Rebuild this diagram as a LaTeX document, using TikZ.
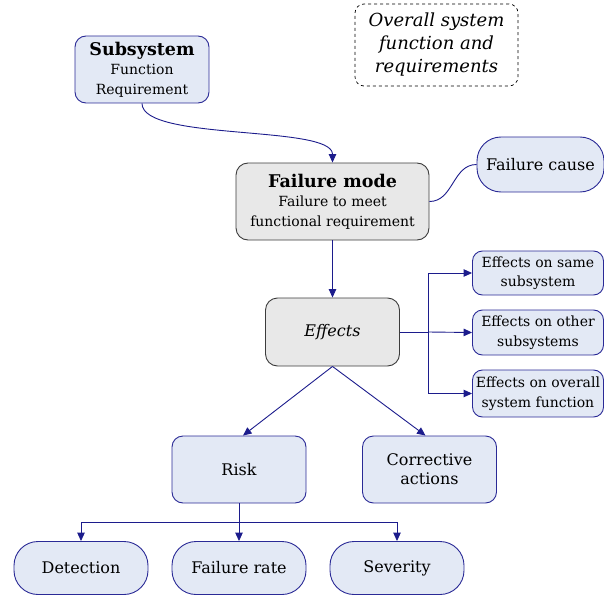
\documentclass[tikz,border=0pt]{standalone}
\usepackage{fontspec}
\setmainfont{DejaVu Serif}
\usetikzlibrary{arrows.meta}
\definecolor{boxblue}{HTML}{E3E9F5}
\definecolor{edgeblue}{HTML}{2A2A96}
\definecolor{linkblue}{HTML}{1C1C8C}
\definecolor{boxgray}{HTML}{E8E8E8}
\definecolor{edgegray}{HTML}{3C3C3C}
\newcommand\bigtxt{\fontsize{16}{19}\selectfont}
\newcommand\headtxt{\fontsize{17.5}{21}\selectfont\bfseries}
\newcommand\smalltxt{\fontsize{14}{19.5}\selectfont}
\tikzset{
  bluebox/.style={draw=edgeblue, fill=boxblue, line width=0.9pt, rounded corners=11pt,
    align=center, inner sep=0pt},
  graybox/.style={draw=edgegray, fill=boxgray, line width=0.9pt, rounded corners=12pt,
    align=center, inner sep=0pt},
  pill/.style={bluebox, rounded corners=24pt},
  notebox/.style={draw=black, dashed, line width=0.7pt, rounded corners=9pt,
    align=center, inner sep=0pt},
  link/.style={draw=linkblue, line width=0.9pt},
  arrow/.style={link, -{Triangle[width=7.5pt,length=8.5pt]}},
}
\begin{document}
\begin{tikzpicture}[x=1pt,y=-1pt]
\useasboundingbox (0,0) rectangle (604,596);

% top level
\node[bluebox, minimum width=134pt, minimum height=67pt, font=\smalltxt] (sub) at (142,69.5)
  {{\headtxt Subsystem}\\Function\\Requirement};
\node[notebox, minimum width=163pt, minimum height=82pt, font=\fontsize{18}{23}\selectfont\itshape] (goal) at (436.5,45)
  {Overall system\\function and\\requirements};

% failure mode and its cause
\node[graybox, minimum width=193pt, minimum height=77pt, font=\smalltxt] (fm) at (332.5,201.5)
  {{\headtxt Failure mode}\\Failure to meet\\functional requirement};
\node[pill, rounded corners=24pt, minimum width=127pt, minimum height=55pt, font=\bigtxt] (cause) at (540.5,164.5)
  {Failure cause};

% effects
\node[graybox, minimum width=134pt, minimum height=68pt, font=\bigtxt\itshape] (eff) at (332.5,332)
  {Effects};
\node[bluebox, rounded corners=10pt, minimum width=131pt, minimum height=44pt, font=\smalltxt] (same) at (538,273)
  {Effects on same\\subsystem};
\node[bluebox, rounded corners=10pt, minimum width=131pt, minimum height=45pt, font=\smalltxt] (other) at (538,332.5)
  {Effects on other\\subsystems};
\node[bluebox, rounded corners=10pt, minimum width=131pt, minimum height=47pt, font=\smalltxt] (whole) at (538,393.5)
  {Effects on overall\\system function};

% risk and corrective actions
\node[bluebox, minimum width=134pt, minimum height=67pt, font=\bigtxt] (risk) at (239,469.5)
  {Risk};
\node[bluebox, minimum width=134pt, minimum height=67pt, font=\bigtxt] (corr) at (429.5,469.5)
  {Corrective\\actions};

% risk factors
\node[pill, minimum width=134pt, minimum height=53pt, font=\bigtxt] (det) at (81,568) {Detection};
\node[pill, minimum width=134pt, minimum height=53pt, font=\bigtxt] (rate) at (239,568) {Failure rate};
\node[pill, minimum width=134pt, minimum height=53pt, font=\bigtxt] (sev) at (397,568) {Severity};

% connectors
\draw[arrow] (sub.south) .. controls +(0,38) and +(0,-38) .. (fm.north);
\draw[link] (fm.east) .. controls +(24,0) and +(-24,0) .. (cause.west);
\draw[arrow] (fm.south) -- (eff.north);

\coordinate (effsplit) at (428,332);
\draw[link] (eff.east) -- (effsplit);
\draw[arrow] (effsplit) |- (same.west);
\draw[arrow] (effsplit) -- (other.west);
\draw[arrow] (effsplit) |- (whole.west);

\draw[arrow] (eff.south) -- ([xshift=4pt]risk.north);
\draw[arrow] (eff.south) -- ([xshift=-4pt]corr.north);

\coordinate (risksplit) at (239,522);
\draw[link] (risk.south) -- (risksplit);
\draw[arrow] (risksplit) -| (det.north);
\draw[arrow] (risksplit) -- (rate.north);
\draw[arrow] (risksplit) -| (sev.north);
\end{tikzpicture}
\end{document}
